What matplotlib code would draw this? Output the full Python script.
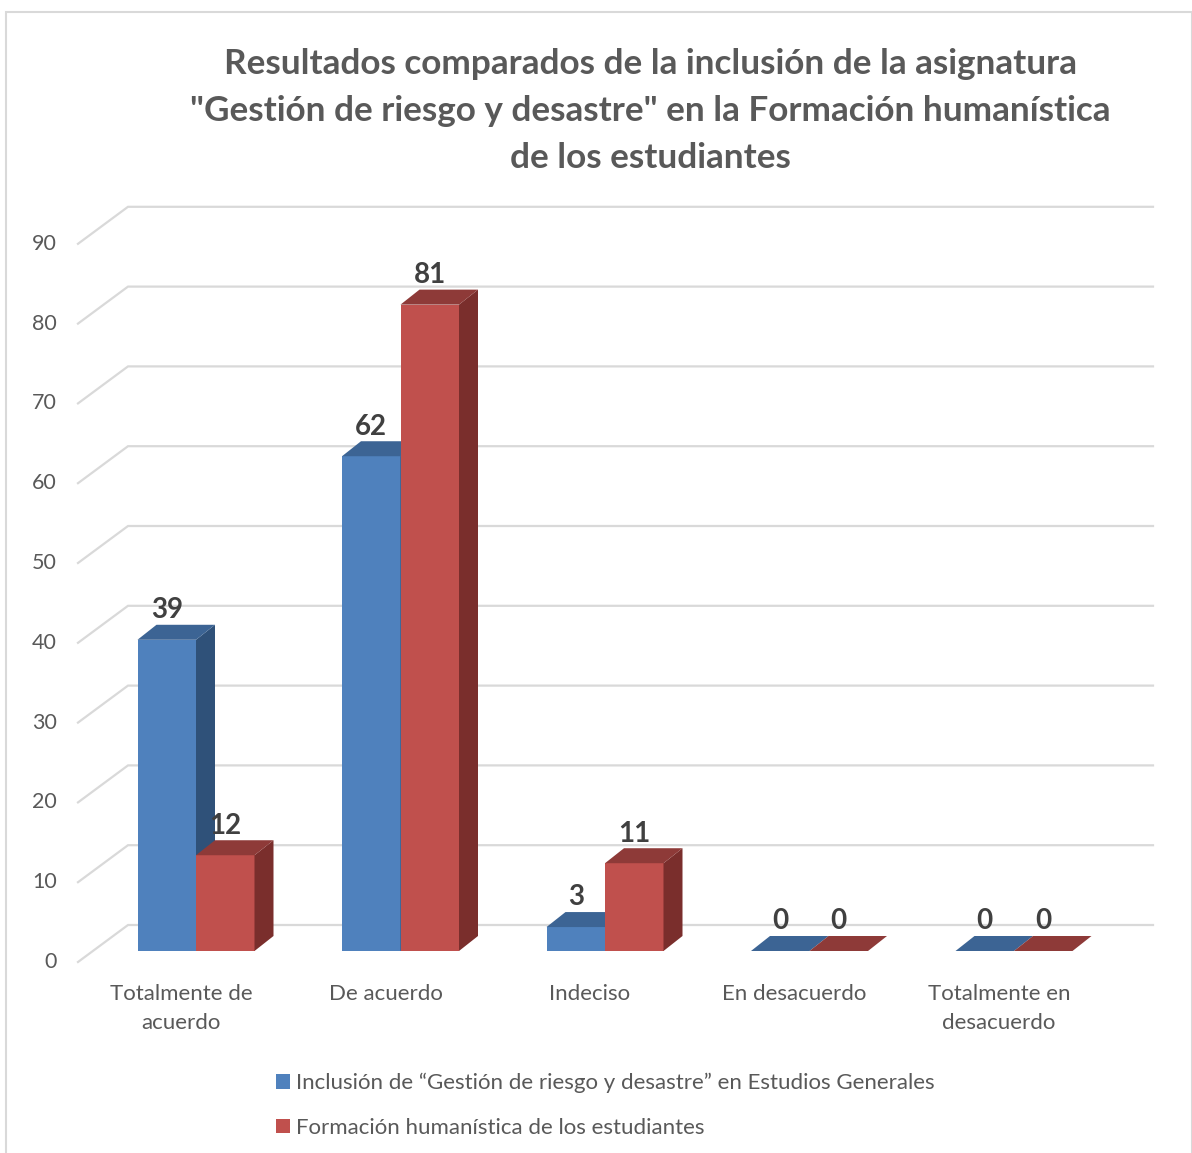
import matplotlib.pyplot as plt
from matplotlib.patches import Polygon, Patch, Rectangle

plt.rcParams["font.family"] = ["Lato", "DejaVu Sans"]

categories = ["Totalmente de\nacuerdo", "De acuerdo", "Indeciso", "En desacuerdo", "Totalmente en\ndesacuerdo"]
inclusion = [39, 62, 3, 0, 0]
formacion = [12, 81, 11, 0, 0]
series_names = ["Inclusión de \u201cGestión de riesgo y desastre\u201d en Estudios Generales",
                "Formación humanística de los estudiantes"]
yticks = [0, 10, 20, 30, 40, 50, 60, 70, 80, 90]
title = ('Resultados comparados de la inclusión de la asignatura\n'
         '"Gestión de riesgo y desastre" en la Formación humanística\n'
         'de los estudiantes')

# colours: front, side, top
blue = ("#4F81BD", "#2F5179", "#3C6494")
red = ("#C0504D", "#7A2E2C", "#8E3A38")
text_col = "#595959"

W, H = 1192, 1153
PX, PY = 204.5, 7.98          # pixels per category unit / per value unit
X0, Y0 = 196, 951             # pixel of category 0 centre, value 0
BW = 58.5 / PX                # bar width
DX, DY = 19 / PX, 15 / PY     # bar depth
GX0, GX1, GXE = (78 - X0) / PX, (128 - X0) / PX, (1153 - X0) / PX
GY0, GY1 = -11 / PY, 26 / PY  # grid offsets front / back

fig = plt.figure(figsize=(W / 100, H / 100), dpi=100)
ax = fig.add_axes([0, 0, 1, 1])
ax.set_xlim(-X0 / PX, (W - X0) / PX)
ax.set_ylim((Y0 - H) / PY, Y0 / PY)
ax.axis("off")

# back wall grid
for v in yticks:
    ax.plot([GX0, GX1, GXE], [v + GY0, v + GY1, v + GY1], color="#D9D9D9", lw=1.6,
            solid_joinstyle="miter", zorder=1)
    ax.text((57 - X0) / PX, v + GY0, str(v), ha="right", va="center",
            fontsize=15.5, color=text_col)


def bar3d(x, h, cols):
    front, side, top = cols
    if h > 0:
        ax.add_patch(Rectangle((x, 0), BW, h, fc=front, ec="none", zorder=3))
        ax.add_patch(Polygon([(x + BW, 0), (x + BW + DX, DY), (x + BW + DX, h + DY), (x + BW, h)],
                             fc=side, ec="none", zorder=3))
    ax.add_patch(Polygon([(x, h), (x + DX, h + DY), (x + BW + DX, h + DY), (x + BW, h)],
                         fc=top, ec="none", zorder=3))
    ax.text(x + BW / 2, h + DY + 0.2, str(h), ha="center", va="bottom",
            fontsize=20, fontweight="bold", color="#404040", zorder=4)


for i, (a, b) in enumerate(zip(inclusion, formacion)):
    bar3d(i - BW, a, blue)
    bar3d(i, b, red)
    ax.text(i - 15 / PX, -33 / PY, categories[i], ha="center", va="top",
            fontsize=16, color=text_col, linespacing=1.58)

fig.text(650 / W, 1 - 111 / H, title, ha="center", va="center", fontsize=25.3,
         fontweight="bold", color=text_col, linespacing=1.56)

handles = [Patch(fc=blue[0]), Patch(fc=red[0])]
fig.legend(handles, series_names, loc="upper left", bbox_to_anchor=(256 / W, 1 - 1053 / H),
           frameon=False, fontsize=16, handlelength=0.65, handleheight=0.65,
           handletextpad=0.25, labelspacing=1.1, labelcolor=text_col)

fig.add_artist(Rectangle((6 / W, -0.01), (W - 6) / W, 1.0, transform=fig.transFigure,
                         fill=False, ec="#D9D9D9", lw=1.5))

fig.savefig("out.png", dpi=100)
